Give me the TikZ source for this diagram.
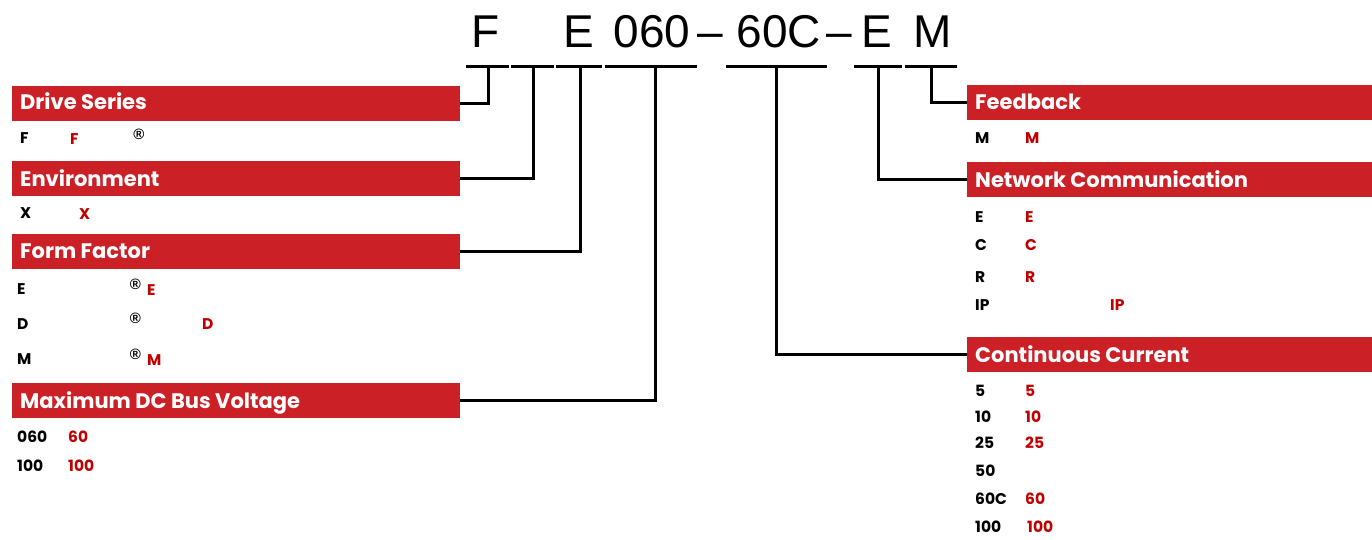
\documentclass[tikz,border=0pt]{standalone}
\usepackage{fontspec}
\setmainfont{Poppins}
\newfontfamily\codefont{Liberation Sans}
\definecolor{barred}{RGB}{204,32,39}
\definecolor{txtred}{RGB}{192,0,0}
\tikzset{
 bar/.style={rectangle, fill=barred, inner sep=0, minimum height=35pt, anchor=north west},
 lbar/.style={bar, minimum width=448pt},
 rbar/.style={bar, minimum width=405pt},
 hdr/.style={anchor=base west, inner sep=0, text=white, font=\fontsize{21}{24}\selectfont\bfseries},
 cb/.style={anchor=base west, inner sep=0, font=\fontsize{15.5}{17}\selectfont\bfseries},
 cr/.style={cb, text=txtred},
 reg/.style={anchor=center, inner sep=0, font=\codefont\fontsize{15}{16}\selectfont\bfseries},
 big/.style={anchor=base, inner sep=0, font=\codefont\fontsize{46}{50}\selectfont},
 ln/.style={line width=3pt, line join=miter},
}
\begin{document}
\begin{tikzpicture}[x=1pt,y=-1pt]
\useasboundingbox (0,0) rectangle (1372,540);
% code letters
\node[big] (cF) at (486,48) {F};
\node[big] (cE) at (578.5,48) {E};
\node[big] (c060) at (652,48) {060};
\node[big] (cd1) at (710,48) {–};
\node[big] (c60C) at (779,48) {60C};
\node[big] (cd2) at (839.5,48) {–};
\node[big] (cE2) at (877,48) {E};
\node[big] (cM) at (933,48) {M};
% underline segments
\coordinate (a1) at (466,67); \coordinate (b1) at (509,67);
\coordinate (a2) at (511,67); \coordinate (b2) at (554,67);
\coordinate (a3) at (556,67); \coordinate (b3) at (602,67);
\coordinate (a4) at (605,67); \coordinate (b4) at (697,67);
\coordinate (a5) at (726,67); \coordinate (b5) at (827,67);
\coordinate (a6) at (854,67); \coordinate (b6) at (902,67);
\coordinate (a7) at (905,67); \coordinate (b7) at (957,67);
\foreach \i in {1,...,7} {\draw[ln] (a\i) -- (b\i);}
\coordinate (d1) at (488,67);
\coordinate (d2) at (533,67);
\coordinate (d3) at (580,67);
\coordinate (d4) at (655,67);
\coordinate (d5) at (776,67);
\coordinate (d6) at (878,67);
\coordinate (d7) at (931,67);
% left bars
\node[lbar] (ds) at (12,86) {};
\node[hdr] (dsT) at (20,110) {Drive Series};
\node[lbar] (env) at (12,161) {};
\node[hdr] (envT) at (20,186) {Environment};
\node[lbar] (ff) at (12,234) {};
\node[hdr] (ffT) at (20,258) {Form Factor};
\node[lbar] (dc) at (12,383) {};
\node[hdr] (dcT) at (20,408) {Maximum DC Bus Voltage};
% right bars
\node[rbar] (fb) at (967,85) {};
\node[hdr] (fbT) at (975,110) {Feedback};
\node[rbar] (nc) at (967,162) {};
\node[hdr] (ncT) at (975,187) {Network Communication};
\node[rbar] (cc) at (967,337) {};
\node[hdr] (ccT) at (975,362) {Continuous Current};
% connectors
\draw[ln] (d1) |- (ds.east);
\draw[ln] (d2) |- (env.east);
\draw[ln] (d3) |- (ff.east);
\draw[ln] (d4) |- (dc.east);
\draw[ln] (d5) |- (cc.west);
\draw[ln] (d6) |- (nc.west);
\draw[ln] (d7) |- (fb.west);
% left rows
\node[cb] (r1a) at (20,144) {F};
\node[cr] (r1b) at (70,145) {F};
\node[reg] (r1c) at (139,134) {®};
\node[cb] (r2a) at (20,218) {X};
\node[cr] (r2b) at (79,219) {X};
\node[cb] (r3a) at (17,294) {E};
\node[reg] (r3c) at (135.5,284) {®};
\node[cr] (r3b) at (147,295) {E};
\node[cb] (r4a) at (17,329) {D};
\node[reg] (r4c) at (135.5,318) {®};
\node[cr] (r4b) at (202,329) {D};
\node[cb] (r5a) at (17,364) {M};
\node[reg] (r5c) at (135.5,354) {®};
\node[cr] (r5b) at (147,365) {M};
\node[cb] (r6a) at (17,442) {060};
\node[cr] (r6b) at (68,442) {60};
\node[cb] (r7a) at (17,471) {100};
\node[cr] (r7b) at (68,471) {100};
% right rows
\node[cb] (s1a) at (975,144) {M};
\node[cr] (s1b) at (1025,144) {M};
\node[cb] (s2a) at (975,222) {E};
\node[cr] (s2b) at (1025,222) {E};
\node[cb] (s3a) at (975,250) {C};
\node[cr] (s3b) at (1025,250) {C};
\node[cb] (s4a) at (975,282) {R};
\node[cr] (s4b) at (1025,282) {R};
\node[cb] (s5a) at (975,310) {IP};
\node[cr] (s5b) at (1110,310) {IP};
\node[cb] (t1a) at (975,396) {5};
\node[cr] (t1b) at (1025,396) {5};
\node[cb] (t2a) at (975,422) {10};
\node[cr] (t2b) at (1025,422) {10};
\node[cb] (t3a) at (975,448) {25};
\node[cr] (t3b) at (1025,448) {25};
\node[cb] (t4a) at (975,476) {50};
\node[cb] (t5a) at (975,504) {60C};
\node[cr] (t5b) at (1025,504) {60};
\node[cb] (t6a) at (975,532) {100};
\node[cr] (t6b) at (1027,532) {100};
\end{tikzpicture}
\end{document}
